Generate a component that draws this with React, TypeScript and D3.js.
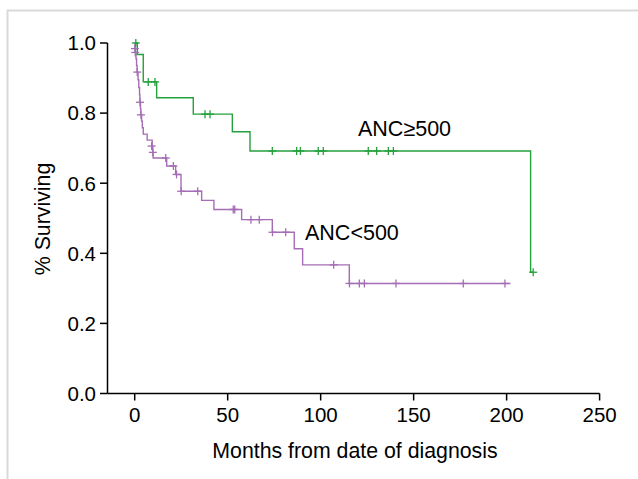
import React from "react";
import * as d3 from "d3";

// Kaplan-Meier step data: [months, survival after event]
const greenSteps: [number, number][] = [
  [0, 1.0], [1.4, 0.967], [4.6, 0.889], [11.8, 0.844], [31.5, 0.797],
  [52.5, 0.747], [62.0, 0.692], [212.9, 0.346],
];
const greenEnd = 214.3;
const greenCensor: [number, number][] = [
  [0.6, 1.0], [7.3, 0.889], [10.9, 0.889], [37.8, 0.797], [40.5, 0.797],
  [74, 0.692], [87.1, 0.692], [89.1, 0.692], [98.7, 0.692], [101.4, 0.692],
  [125.6, 0.692], [130.1, 0.692], [136.4, 0.692], [139.1, 0.692], [214.3, 0.346],
];

const purpleSteps: [number, number][] = [
  [0, 1.0], [0.2, 0.984], [0.4, 0.973], [0.7, 0.955], [1.0, 0.936], [1.3, 0.917],
  [1.8, 0.895], [2.2, 0.873], [2.6, 0.852], [2.8, 0.831], [3.1, 0.813], [3.3, 0.795],
  [3.7, 0.777], [4.1, 0.758], [4.6, 0.74], [6.7, 0.723], [9.4, 0.706], [9.7, 0.688],
  [9.9, 0.672], [17.2, 0.649], [22.0, 0.625], [24.9, 0.577], [36.0, 0.551],
  [42.6, 0.525], [57.5, 0.496], [74.0, 0.46], [85.8, 0.413], [90.3, 0.367], [115.4, 0.314],
];
const purpleEnd = 202.1;
const purpleCensor: [number, number][] = [
  [0.1, 0.984], [0.3, 0.973], [1.35, 0.917], [2.85, 0.831], [3.35, 0.795],
  [9.1, 0.706], [9.75, 0.688], [16.7, 0.672], [20.8, 0.649], [22.5, 0.625],
  [25.0, 0.577], [33.9, 0.577], [53.0, 0.525], [53.8, 0.525], [62.5, 0.496],
  [67.0, 0.496], [74.1, 0.46], [81.2, 0.46], [107, 0.367], [115.5, 0.314],
  [120.8, 0.314], [123.5, 0.314], [140.5, 0.314], [176.7, 0.314], [199.1, 0.314],
];

const xTicks = [0, 50, 100, 150, 200, 250];
const yTicks = [0, 0.2, 0.4, 0.6, 0.8, 1.0];

const GREEN = "#24a03c";
const PURPLE = "#a56db5";
const FONT = "'Liberation Sans', Arial, sans-serif";

export default function App() {
  const x = d3.scaleLinear().domain([0, 250]).range([134.7, 599.6]);
  const y = d3.scaleLinear().domain([0, 1]).range([393.5, 43]);

  const line = d3
    .line<[number, number]>()
    .x((d) => x(d[0]))
    .y((d) => y(d[1]))
    .curve(d3.curveStepAfter);

  const withEnd = (s: [number, number][], end: number): [number, number][] => [
    ...s,
    [end, s[s.length - 1][1]],
  ];

  const censor = (pts: [number, number][], color: string) =>
    pts.map((p, i) => (
      <g key={i} stroke={color} strokeWidth={1.3}>
        <line x1={x(p[0])} x2={x(p[0])} y1={y(p[1]) - 4} y2={y(p[1]) + 4} />
        <line x1={x(p[0]) - 4} x2={x(p[0]) + 4} y1={y(p[1])} y2={y(p[1])} />
      </g>
    ));

  return (
    <svg
      width={638}
      height={479}
      style={{ position: "absolute", left: 0, top: 0, background: "#fff" }}
      fontFamily={FONT}
    >
      <rect x={7.5} y={10.5} width={700} height={600} fill="none" stroke="#d9d9d9" strokeWidth={2} />

      {/* axes */}
      <line x1={107.5} x2={107.5} y1={y(1)} y2={y(0)} stroke="#000" strokeWidth={1.5} />
      <line x1={107.5} x2={x(250)} y1={y(0)} y2={y(0)} stroke="#000" strokeWidth={1.5} />
      {yTicks.map((t) => (
        <g key={t}>
          <line x1={100} x2={107.5} y1={y(t)} y2={y(t)} stroke="#000" strokeWidth={1.5} />
          <text x={96} y={y(t)} dy="0.36em" textAnchor="end" fontSize={20.5}>
            {t.toFixed(1)}
          </text>
        </g>
      ))}
      {xTicks.map((t) => (
        <g key={t}>
          <line x1={x(t)} x2={x(t)} y1={y(0)} y2={y(0) + 7} stroke="#000" strokeWidth={1.5} />
          <text x={x(t)} y={422} textAnchor="middle" fontSize={20.5}>
            {t}
          </text>
        </g>
      ))}

      <text x={355} y={458} textAnchor="middle" fontSize={21.3}>
        Months from date of diagnosis
      </text>
      <text
        transform="translate(50,219) rotate(-90)"
        textAnchor="middle"
        fontSize={21.3}
      >
        % Surviving
      </text>

      {/* curves */}
      <path d={line(withEnd(purpleSteps, purpleEnd)) || ""} fill="none" stroke={PURPLE} strokeWidth={1.4} />
      <path d={line(withEnd(greenSteps, greenEnd)) || ""} fill="none" stroke={GREEN} strokeWidth={1.4} />
      {censor(purpleCensor, PURPLE)}
      {censor(greenCensor, GREEN)}

      <text x={358} y={136} fontSize={21.5}>
        ANC≥500
      </text>
      <text x={305} y={240} fontSize={21.5}>
        ANC&lt;500
      </text>
    </svg>
  );
}
